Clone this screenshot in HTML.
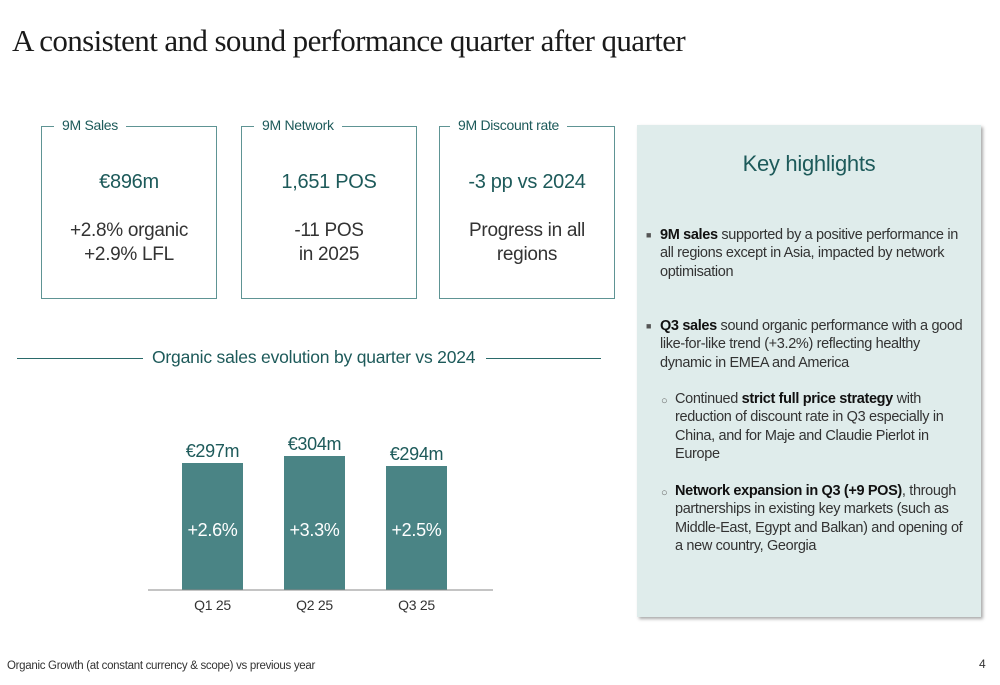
<!DOCTYPE html>
<html><head><meta charset="utf-8"><style>
body{margin:0;width:1000px;height:685px;background:#fff;position:relative;overflow:hidden;font-family:"Liberation Sans",sans-serif;}
.a{position:absolute;}
.box{position:absolute;top:126px;width:176px;height:173px;border:1.5px solid #5e9494;box-sizing:border-box;}
.lbl{position:absolute;top:-10px;background:#fff;padding:0 8px;font-size:14px;color:#1d5a5a;letter-spacing:-0.3px;white-space:nowrap;}
.big{position:absolute;left:0;right:0;top:44px;text-align:center;font-size:20px;color:#1d5a5a;letter-spacing:-0.3px;}
.sub{position:absolute;left:0;right:0;top:92px;text-align:center;font-size:19px;line-height:24px;color:#333;letter-spacing:-0.3px;}
.panel{left:637px;top:125px;width:344px;height:492px;background:#dfeceb;box-shadow:2px 2px 3px #aaa;}
.p{position:absolute;font-size:14.5px;line-height:18.3px;color:#333;letter-spacing:-0.35px;}
.p b{color:#111;font-weight:bold;}
</style></head><body>
<div class="a" style="left:12px;top:23px;font-family:'Liberation Serif',serif;font-size:31px;color:#1a1a1a;letter-spacing:-0.6px;">A consistent and sound performance quarter after quarter</div>

<div class="box" style="left:41px;"><div class="lbl" style="left:12px;">9M Sales</div><div class="big">€896m</div><div class="sub">+2.8% organic<br>+2.9% LFL</div></div>
<div class="box" style="left:241px;"><div class="lbl" style="left:12px;">9M Network</div><div class="big">1,651 POS</div><div class="sub">-11 POS<br>in 2025</div></div>
<div class="box" style="left:439px;"><div class="lbl" style="left:10px;">9M Discount rate</div><div class="big">-3 pp vs 2024</div><div class="sub">Progress in all<br>regions</div></div>

<div class="a" style="left:17px;top:358px;width:126px;height:1px;background:#2a6a6a;"></div>
<div class="a" style="left:152px;top:347px;font-size:17.5px;color:#1d5a5a;letter-spacing:-0.2px;">Organic sales evolution by quarter vs 2024</div>
<div class="a" style="left:486px;top:358px;width:115px;height:1px;background:#2a6a6a;"></div>

<svg class="a" style="left:0;top:0" width="620" height="640" id="chart"></svg>

<div class="a panel">
<div class="a" style="left:0;right:0;top:26px;text-align:center;font-size:22px;color:#1d5a5a;letter-spacing:-0.3px;">Key highlights</div>
<div class="p" style="left:9px;top:101px;font-size:9px;color:#555;">■</div>
<div class="p" style="left:23px;top:101px;width:312px;"><b>9M sales</b> supported by a positive performance in all regions except in Asia, impacted by network optimisation</div>
<div class="p" style="left:9px;top:192px;font-size:9px;color:#555;">■</div>
<div class="p" style="left:23px;top:192px;width:310px;"><b>Q3 sales</b> sound organic performance with a good like-for-like trend (+3.2%) reflecting healthy dynamic in EMEA and America</div>
<div class="p" style="left:24px;top:267px;font-size:11px;color:#666;">○</div>
<div class="p" style="left:38px;top:265px;width:290px;">Continued <b>strict full price strategy</b> with reduction of discount rate in Q3 especially in China, and for Maje and Claudie Pierlot in Europe</div>
<div class="p" style="left:24px;top:359px;font-size:11px;color:#666;">○</div>
<div class="p" style="left:38px;top:357px;width:295px;"><b>Network expansion in Q3 (+9 POS)</b>, through partnerships in existing key markets (such as Middle-East, Egypt and Balkan) and opening of a new country, Georgia</div>
</div>

<div class="a" style="left:7px;top:660px;font-size:11.5px;color:#333;letter-spacing:-0.3px;">Organic Growth (at constant currency &amp; scope) vs previous year</div>
<div class="a" style="left:979px;top:657px;font-size:12px;color:#333;">4</div>

<script>
const categories=["Q1 25","Q2 25","Q3 25"];
const salesValues=[297,304,294];
const growthLabels=["+2.6%","+3.3%","+2.5%"];
const NS="http://www.w3.org/2000/svg";
const svg=document.getElementById('chart');
const baseY=590, x0=182, step=102, bw=61, base=170, k=1;
const yScale=v=>baseY-(v-base)*k;
const xScale=i=>x0+i*step;
function mk(t,a){const e=document.createElementNS(NS,t);for(const n in a)e.setAttribute(n,a[n]);svg.appendChild(e);return e;}
categories.forEach((c,i)=>{
  const x=xScale(i),y=yScale(salesValues[i]);
  const r=mk('rect',{x:x,y:y,width:bw,height:baseY-y,fill:'#4a8485'});
  
  
  const v=mk('text',{x:x+bw/2,y:y-6,'text-anchor':'middle','font-size':18,fill:'#1d5a5a','font-family':'Liberation Sans, sans-serif','letter-spacing':'-0.3'});
  v.textContent='€'+salesValues[i]+'m';
  
  
  const g=mk('text',{x:x+bw/2,y:536,'text-anchor':'middle','font-size':18,fill:'#fff','font-family':'Liberation Sans, sans-serif','letter-spacing':'-0.3'});
  g.textContent=growthLabels[i];
  
  
  const t=mk('text',{x:x+bw/2,y:610,'text-anchor':'middle','font-size':14,fill:'#333','font-family':'Liberation Sans, sans-serif','letter-spacing':'-0.3'});
  t.textContent=c;
  
  
});
const ax=mk('line',{x1:148,x2:493,y1:baseY,y2:baseY,stroke:'#888','stroke-width':1});


</script>
</body></html>
